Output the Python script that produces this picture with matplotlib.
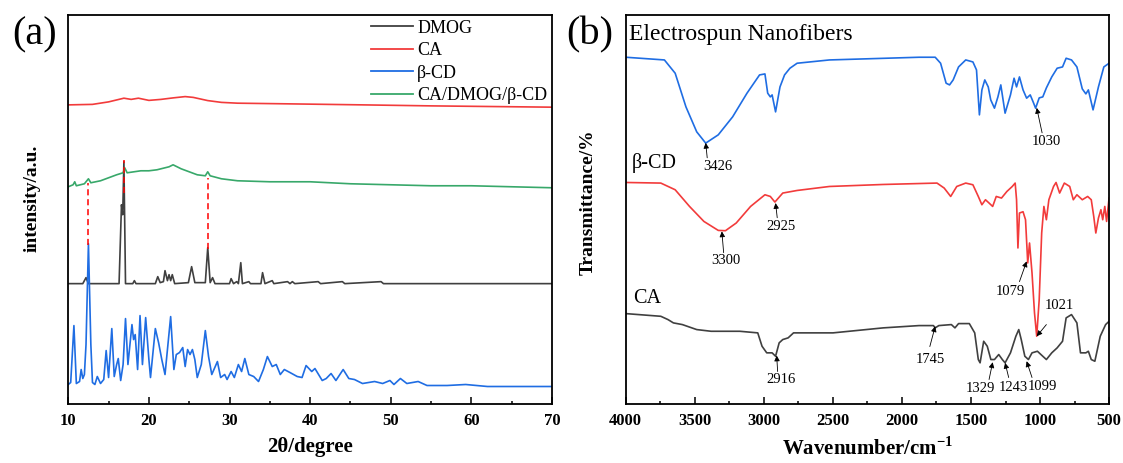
import matplotlib
matplotlib.use("Agg")
import matplotlib.pyplot as plt
from matplotlib.ticker import MultipleLocator

plt.rcParams["font.family"] = ["Liberation Serif", "DejaVu Serif"]
plt.rcParams["mathtext.fontset"] = "custom"
plt.rcParams["mathtext.rm"] = "Liberation Serif:bold"
plt.rcParams["mathtext.bf"] = "Liberation Serif:bold"

# ---------------- (a) XRD data (intensity in a.u., curves already offset) ----------------
ca_2theta = [10, 13, 15, 16.9, 17.8, 18.7, 20.0, 21.5, 23, 24.5, 25.5, 27.3, 29, 31, 37.6, 46.6, 55, 70]
ca_int = [300, 300.5, 303, 306.7, 305.5, 306.7, 304.5, 305.5, 307, 308.3, 307.5, 304.3, 302.5, 301.7, 301, 300, 299, 297.7]

mix_2theta = [10, 10.6, 10.8, 11.0, 12.0, 12.5, 12.8, 14, 16, 16.8, 17.0, 17.3, 19, 20, 21, 22.5, 23,
              24, 25, 26, 27.0, 27.3, 27.6, 29, 31, 35, 40, 45, 50, 55, 60, 70]
mix_int = [218, 220, 223, 219, 221, 226, 222, 224, 230, 232, 237, 232, 234, 234, 235, 238, 240,
           236, 233, 230, 229, 233, 229, 226, 224, 223, 223, 221, 220, 219, 219, 217]

dmog_2theta = [10, 11.8, 12.2, 12.5, 16.3, 16.6, 16.75, 16.9, 17.1, 18.0, 18.2, 18.4, 20.8, 21.1, 21.4,
               21.8, 22.0, 22.3, 22.5, 22.7, 22.9, 23.2, 24.9, 25.3, 25.7, 27.0, 27.3, 27.6, 27.9, 28.2,
               30.0, 30.2, 30.5, 30.9, 31.1, 31.4, 31.6, 32.4, 32.6, 33.9, 34.1, 34.4, 35.3, 35.5,
               37.2, 37.5, 37.8, 38.1, 41.0, 41.3, 44.0, 44.3, 48.8, 49.1, 70]
dmog_int = [121, 121, 127, 121, 121, 200, 190, 243, 121, 121, 124, 121, 121, 128, 122,
            123, 134, 124, 130, 124, 130, 121, 122, 138, 122, 122, 157, 122, 127, 121,
            121, 126, 121, 123, 121, 142, 121, 123, 121, 121, 132, 121, 124, 121,
            123, 121, 123, 121, 123, 121, 123, 121, 123, 121, 121]

bcd_2theta = [10.0, 10.3, 10.7, 11.0, 11.4, 11.6, 11.8, 12.0, 12.2, 12.5, 12.8, 13.0, 13.3, 13.6, 14.0,
              14.4, 14.7, 15.0, 15.4, 15.7, 16.0, 16.2, 16.5, 16.8, 17.1, 17.4, 17.9, 18.1, 18.3, 18.6,
              18.9, 19.2, 19.6, 20.0, 20.2, 20.8, 21.2, 21.6, 22.0, 22.7, 23.1, 23.4, 23.8, 24.2, 24.5,
              24.8, 25.1, 25.4, 25.7, 26.0, 26.5, 27.0, 27.4, 27.8, 28.5, 28.9, 29.4, 29.7, 30.2, 30.6,
              31.1, 31.5, 31.9, 32.4, 33.0, 33.6, 34.2, 34.7, 35.3, 35.8, 36.3, 36.8, 37.5, 38.4, 39.0,
              39.5, 40.2, 40.6, 41.5, 42.0, 42.6, 43.2, 44.1, 44.8, 45.5, 46.5, 48.0, 49.0, 49.9, 50.4,
              51.2, 52.0, 53.4, 54.5, 57.0, 59.3, 62.0, 66.0, 70.0]
bcd_int = [20, 22, 79, 21, 23, 35, 26, 30, 60, 161, 60, 22, 20, 28, 21,
           25, 54, 27, 76, 28, 40, 46, 24, 40, 86, 40, 80, 65, 70, 35,
           89, 40, 87, 45, 27, 76, 62, 45, 30, 88, 35, 50, 52, 57, 38,
           55, 50, 55, 45, 27, 40, 74, 48, 30, 43, 27, 30, 25, 33, 27,
           40, 33, 46, 30, 28, 23, 35, 48, 38, 40, 30, 35, 32, 28, 27,
           39, 33, 36, 24, 26, 31, 24, 35, 26, 25, 21, 23, 21, 24, 20,
           26, 21, 23, 19, 19, 20, 18, 18, 18]

match_2theta = [12.5, 16.9, 27.3]
match_top = [222, 245, 227]
match_bottom = [160, 212, 156]

# ---------------- (b) FTIR data (transmittance in a.u., curves already offset) ----------------
fib_wn = [4000, 3720, 3642, 3564, 3486, 3421, 3330, 3226, 3122, 3031, 2992, 2972, 2953, 2940, 2915,
          2883, 2850, 2811, 2759, 2525, 1876, 1759, 1720, 1680, 1655, 1629, 1590, 1538, 1486, 1460,
          1439, 1421, 1400, 1375, 1357, 1330, 1305, 1284, 1253, 1214, 1188, 1170, 1149, 1123, 1097,
          1071, 1050, 1032, 1006, 980, 954, 915, 876, 837, 811, 772, 733, 694, 668, 650, 616, 577,
          538, 500]
fib_t = [347.7, 345, 331.7, 298, 273, 261.7, 270, 288, 311.7, 330, 331, 311.7, 308, 310, 293,
         318, 330, 336.7, 341.7, 345, 347.7, 347.7, 341.7, 321.7, 320, 325, 338, 345, 343, 335,
         290, 315, 325, 318, 305, 296.7, 308, 320, 291.7, 310, 326.7, 318, 328, 315, 306.7,
         310, 303, 296.7, 307, 308, 317, 328, 336.7, 338, 346.7, 345, 338, 316, 311, 315, 295, 318,
         338, 341.7]

bcd_wn = [4000, 3746, 3642, 3538, 3434, 3330, 3278, 3200, 3096, 2992, 2953, 2920, 2863, 2759, 2525,
          2136, 1746, 1694, 1647, 1603, 1538, 1486, 1447, 1421, 1395, 1369, 1343, 1317, 1279, 1240,
          1201, 1180, 1170, 1160, 1149, 1123, 1105, 1089, 1076, 1058, 1040, 1024, 1006, 988, 972,
          954, 936, 902, 884, 858, 824, 785, 759, 733, 694, 655, 629, 611, 596, 577, 559, 546, 531,
          518, 500]
bcd_t = [222.3, 221.7, 215, 198.3, 183.3, 174.3, 174, 181.7, 198.3, 210, 208.3, 202.7, 211.7, 214.3, 218.3,
         220.3, 221.7, 216.7, 208.3, 218.3, 221.7, 220, 208.3, 200, 205, 201.7, 198.3, 208.3, 206.7, 213.3,
         218.3, 221.7, 205, 156.7, 191.7, 193, 185, 141.7, 161.7, 131.7, 91.7, 68.3, 105, 171.7, 198.3,
         185, 205, 218.3, 222.3, 211.7, 221.7, 218.3, 205, 210, 205, 208.3, 205, 188.3, 171.7, 186.7,
         195, 185, 198.3, 183.3, 206.7]

cafib_wn = [4000, 3746, 3694, 3655, 3590, 3486, 3382, 3174, 3044, 3013, 2979, 2940, 2915, 2889, 2863,
            2824, 2785, 2655, 2499, 2136, 1876, 1772, 1759, 1733, 1642, 1616, 1590, 1512, 1473, 1447,
            1434, 1408, 1382, 1356, 1330, 1299, 1273, 1253, 1214, 1175, 1154, 1136, 1110, 1084, 1058,
            1019, 980, 954, 915, 876, 837, 811, 772, 733, 707, 668, 650, 629, 603, 564, 525, 500]
cafib_t = [91, 88.3, 85, 81.7, 80, 75, 73.3, 73.3, 71.7, 58.3, 51.7, 51.7, 48.3, 61.7, 65,
           66.7, 71.7, 71.7, 71.7, 76.7, 79, 79, 76.7, 79, 80, 76.7, 81, 81, 71.7, 45,
           41.7, 63.3, 58.3, 45, 45, 50, 45, 41.7, 51.7, 68.3, 75, 65, 48.3, 45, 51.7,
           53.3, 48.3, 45, 51.7, 56.7, 63.3, 86.7, 90, 81.7, 51.7, 51.7, 53.3, 45, 43.3, 68.3,
           80, 83.3]

peak_labels = ["3426", "1030", "3300", "2925", "1079", "1021", "2916", "1745", "1329", "1243", "1099"]
peak_wn = [3421, 1024, 3304, 2915, 1097, 1024, 2907, 1759, 1343, 1253, 1097]
peak_t = [262, 297, 173.3, 201.7, 143.3, 68.3, 49, 78.3, 42.3, 41.7, 43.3]

# ---------------- layout ----------------
arrow_tail = [(3410, 247), (985, 272), (3291, 152), (2903, 187), (1149, 123), (954, 80),
              (2900, 33), (1798, 58), (1369, 25), (1227, 27), (1058, 27)]
label_pos = [(3330, 238), (954, 263), (3278, 144), (2876, 178), (1214, 113), (863, 99),
             (2876, 25), (1793, 45), (1434, 16), (1196, 17), (980, 18)]

c_black = "#404040"
c_red = "#F23B3B"
c_blue = "#1F6DE3"
c_green = "#38A86A"

fig = plt.figure(figsize=(11.23, 4.63), dpi=100)
ax1 = fig.add_axes([0.0608, 0.1264, 0.4307, 0.8412])
ax2 = fig.add_axes([0.5572, 0.1264, 0.4304, 0.8412])

lw = 1.2
ax1.plot(dmog_2theta, dmog_int, color=c_black, lw=lw, label="DMOG")
ax1.plot(ca_2theta, ca_int, color=c_red, lw=lw, label="CA")
ax1.plot(bcd_2theta, bcd_int, color=c_blue, lw=lw, label="β-CD")
ax1.plot(mix_2theta, mix_int, color=c_green, lw=lw, label="CA/DMOG/β-CD")
ax1.vlines(match_2theta, match_bottom, match_top, colors="red", linestyles=(0, (4, 2.5)), lw=1.1)

ax1.set_xlim(10, 70)
ax1.set_ylim(0, 390)
ax1.set_xticks(range(10, 71, 10))
ax1.xaxis.set_minor_locator(MultipleLocator(5))
ax1.set_yticks([])
ax1.set_xlabel("2θ/degree", fontsize=15, fontweight="bold", labelpad=6)
ax1.set_ylabel("intensity/a.u.", fontsize=14, fontweight="bold")
ax1.yaxis.set_label_coords(-0.057, 0.53)
leg = ax1.legend(loc="upper right", frameon=False, fontsize=13, handlelength=2.3,
                 handletextpad=0.25, labelspacing=0.31, borderaxespad=0.15, borderpad=0.1)
for line in leg.get_lines():
    line.set_linewidth(1.3)

ax2.plot(fib_wn, fib_t, color=c_blue, lw=lw)
ax2.plot(bcd_wn, bcd_t, color=c_red, lw=lw)
ax2.plot(cafib_wn, cafib_t, color=c_black, lw=lw)
ax2.set_xlim(4000, 500)
ax2.set_ylim(0, 390)
ax2.set_xticks(range(4000, 499, -500))
ax2.xaxis.set_minor_locator(MultipleLocator(250))
ax2.set_yticks([])
ax2.set_xlabel("Wavenumber/cm$^{-1}$", fontsize=15, fontweight="bold", labelpad=6)
ax2.set_ylabel("Transmittance/%", fontsize=14, fontweight="bold")
ax2.yaxis.set_label_coords(-0.061, 0.52)

for ax in (ax1, ax2):
    ax.tick_params(axis="x", which="major", direction="in", length=5, width=1.1, top=False, pad=6)
    ax.tick_params(axis="x", which="minor", direction="in", length=2.5, width=1.1, top=False)
    for sp in ax.spines.values():
        sp.set_linewidth(1.3)

ax2.text(3975, 370, "Electrospun Nanofibers", fontsize=17, va="center", ha="left")
ax2.text(3960, 242, "β-CD", fontsize=14.5, va="center", ha="left")
ax2.text(3950, 106, "CA", fontsize=14.5, va="center", ha="left")

for lab, x, y, tail, pos in zip(peak_labels, peak_wn, peak_t, arrow_tail, label_pos):
    ax2.annotate("", xy=(x, y), xytext=tail,
                 arrowprops=dict(arrowstyle="-|>", color="black", lw=0.6,
                                 mutation_scale=8, shrinkA=0, shrinkB=0))
    ax2.text(pos[0], pos[1], lab, fontsize=10.5, ha="center", va="center")

fig.text(0.0312, 0.924, "(a)", fontsize=29, ha="center", va="center")
fig.text(0.5255, 0.924, "(b)", fontsize=29, ha="center", va="center")

# bold tick labels (set after a draw so every tick object exists)
fig.canvas.draw()
for ax in (ax1, ax2):
    for lab in ax.get_xticklabels():
        lab.set_fontweight("bold")
        lab.set_fontsize(12)

fig.savefig("out.png", dpi=100)
